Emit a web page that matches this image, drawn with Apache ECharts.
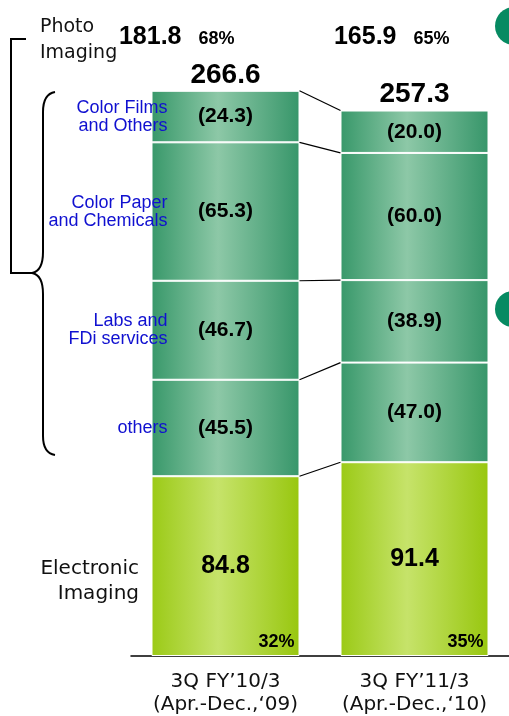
<!DOCTYPE html>
<html><head><meta charset="utf-8">
<script src="https://cdn.jsdelivr.net/npm/echarts@6/dist/echarts.min.js"></script>
<style>html,body{margin:0;padding:0;background:#fff}#c{width:509px;height:716px}</style>
</head><body><div id="c"></div>
<script>
// ---- data ----
const categories = ['3Q FY’10/3\n(Apr.-Dec.,‘09)', '3Q FY’11/3\n(Apr.-Dec.,‘10)'];
const electronic = [84.8, 91.4];
const others = [45.5, 47.0];
const labs = [46.7, 38.9];
const paper = [65.3, 60.0];
const films = [24.3, 20.0];
const totals = [266.6, 257.3];
const photoTotals = [181.8, 165.9];
const photoShares = ['68%', '65%'];
const electronicShares = ['32%', '35%'];
const segmentNames = ['others', 'Labs and\nFDi services', 'Color Paper\nand Chemicals', 'Color Films\nand Others'];

// ---- styling ----
const BAR_W = 148;
const BOLD = '"Liberation Sans", Arial, sans-serif';
const REG = '"DejaVu Sans", sans-serif';
function grad(a, b, c) {
  return new echarts.graphic.LinearGradient(0, 0, 1, 0, [
    {offset: 0, color: a}, {offset: 0.45, color: b}, {offset: 1, color: c}]);
}
const greenGrad = grad('#38986a', '#8dc8a7', '#37966a');
const limeGrad = grad('#9bca16', '#c6e36a', '#98c70f');
const shadow = {textShadowColor: 'rgba(255,255,255,0.75)', textShadowBlur: 0, textShadowOffsetX: 1, textShadowOffsetY: 1};

const stacks = [electronic, others, labs, paper, films];
const tops = [];
stacks.forEach((arr, k) => tops.push(arr.map((v, i) => +(v + (k ? tops[k - 1][i] : 0)).toFixed(1))));

function segSeries(name, data, isEI) {
  return {
    name, type: 'bar', stack: 'all', data, barWidth: BAR_W, z: 2,
    itemStyle: {color: isEI ? limeGrad : greenGrad, borderColor: '#ffffff', borderWidth: 1},
    label: Object.assign({
      show: true, position: 'inside', color: '#000', fontWeight: 'bold',
      fontFamily: BOLD, fontSize: isEI ? 25 : 21,
      formatter: p => isEI ? p.value.toFixed(1) : '(' + p.value.toFixed(1) + ')'
    }, shadow),
    emphasis: {disabled: true}, silent: true
  };
}
function txt(x, y, text, font, fill, align, valign, extra) {
  return Object.assign({type: 'text', x, y, style: Object.assign({
    text, font, fill, align, textAlign: align, verticalAlign: valign, textVerticalAlign: valign
  }, extra || {})});
}

const option = {
  animation: false,
  grid: {left: 131, top: 20, width: 383, height: 639, containLabel: false},
  xAxis: {
    type: 'category', data: categories,
    axisLine: {lineStyle: {color: '#000', width: 1.5}},
    axisTick: {show: false},
    axisLabel: {color: '#111', fontFamily: REG, fontSize: 20, lineHeight: 23, margin: 14}
  },
  yAxis: {type: 'value', min: 0, max: 300, show: false},
  series: [
    segSeries('Electronic Imaging', electronic, true),
    segSeries('others', others),
    segSeries('Labs and FDi services', labs),
    segSeries('Color Paper and Chemicals', paper),
    segSeries('Color Films and Others', films),
    { // connecting lines between segment boundaries
      type: 'custom', clip: false, silent: true, z: 5,
      data: tops.map(t => [0, t[0], t[1]]),
      encode: {x: 0, y: [1, 2]},
      renderItem: (params, api) => {
        const p1 = api.coord([0, api.value(1)]);
        const p2 = api.coord([1, api.value(2)]);
        return {type: 'line', shape: {x1: p1[0] + BAR_W / 2, y1: p1[1], x2: p2[0] - BAR_W / 2, y2: p2[1]},
          style: {stroke: '#000', lineWidth: 1.2}};
      }
    },
    { // segment names beside the first bar
      type: 'custom', clip: false, silent: true, z: 10,
      data: segmentNames.map((n, j) => [0, tops[j][0] + stacks[j + 1][0] / 2]),
      encode: {x: 0, y: 1},
      renderItem: (params, api) => {
        const p = api.coord([0, api.value(1)]);
        return txt(p[0] - BAR_W / 2 + 16, p[1], segmentNames[params.dataIndex],
          '18px "Liberation Sans"', '#1010d0', 'right', 'middle', {lineHeight: 18});
      }
    },
    { // totals above bars
      type: 'custom', clip: false, silent: true, z: 10,
      data: totals.map((t, i) => [i, t]),
      encode: {x: 0, y: 1},
      renderItem: (params, api) => {
        const p = api.coord([api.value(0), api.value(1)]);
        return txt(p[0], p[1] - 2, totals[params.dataIndex].toFixed(1),
          'bold 28px "Liberation Sans"', '#000', 'center', 'bottom');
      }
    },
    { // electronic imaging share
      type: 'custom', clip: false, silent: true, z: 10,
      data: electronicShares.map((s, i) => [i, 0]),
      encode: {x: 0, y: 1},
      renderItem: (params, api) => {
        const p = api.coord([api.value(0), 0]);
        return txt(p[0] + BAR_W / 2 - 5, p[1] - 5, electronicShares[params.dataIndex],
          'bold 18px "Liberation Sans"', '#000', 'right', 'bottom', shadow);
      }
    },
    { // photo imaging totals and shares
      type: 'custom', clip: false, silent: true, z: 10,
      data: photoTotals.map((v, i) => [i, v]),
      encode: {x: 0},
      renderItem: (params, api) => {
        const i = params.dataIndex;
        const cx = api.coord([i, 0])[0];
        const dx = [-44, -18][i];
        return {type: 'group', children: [
          txt(cx + dx, 50, photoTotals[i].toFixed(1), 'bold 25px "Liberation Sans"', '#000', 'right', 'bottom'),
          txt(cx + dx + 17, 48, photoShares[i], 'bold 18px "Liberation Sans"', '#000', 'left', 'bottom')
        ]};
      }
    }
  ],
  graphic: [
    txt(40, 14, 'Photo\nImaging', '19px "DejaVu Sans"', '#111', 'left', 'top', {lineHeight: 26}),
    txt(139, 556, 'Electronic\nImaging', '20px "DejaVu Sans"', '#111', 'right', 'top', {lineHeight: 25}),
    {type: 'polyline', shape: {points: [[26, 39], [11, 39], [11, 273], [33, 273]]}, style: {stroke: '#000', lineWidth: 2, fill: null}},
    {type: 'bezierCurve', shape: {x1: 55, y1: 92, cpx1: 43, cpy1: 94, x2: 43, y2: 112}, style: {stroke: '#000', lineWidth: 2, fill: null}},
    {type: 'line', shape: {x1: 43, y1: 112, x2: 43, y2: 252}, style: {stroke: '#000', lineWidth: 2}},
    {type: 'bezierCurve', shape: {x1: 43, y1: 252, cpx1: 43, cpy1: 271, x2: 32, y2: 273}, style: {stroke: '#000', lineWidth: 2, fill: null}},
    {type: 'bezierCurve', shape: {x1: 32, y1: 273, cpx1: 43, cpy1: 275, x2: 43, y2: 294}, style: {stroke: '#000', lineWidth: 2, fill: null}},
    {type: 'line', shape: {x1: 43, y1: 294, x2: 43, y2: 436}, style: {stroke: '#000', lineWidth: 2}},
    {type: 'bezierCurve', shape: {x1: 43, y1: 436, cpx1: 43, cpy1: 453, x2: 55, y2: 455}, style: {stroke: '#000', lineWidth: 2, fill: null}},
    {type: 'circle', shape: {cx: 514, cy: 26, r: 19}, style: {fill: '#078a62'}},
    {type: 'circle', shape: {cx: 513, cy: 309, r: 18}, style: {fill: '#078a62'}}
  ]
};
const chart = echarts.init(document.getElementById('c'), null, {renderer: 'canvas'});
chart.setOption(option);
</script></body></html>
